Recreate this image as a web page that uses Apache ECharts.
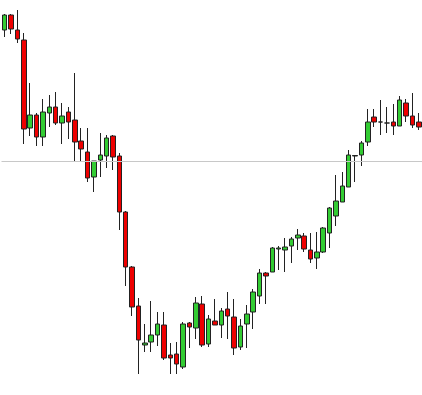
<!DOCTYPE html>
<html>
<head>
<meta charset="utf-8">
<title>Candles</title>
<script src="https://cdn.jsdelivr.net/npm/echarts@6/dist/echarts.min.js"></script>
<style>
	html, body { margin: 0; padding: 0; background: #fff; }
	#chart { width: 422px; height: 395px; }
</style>
</head>
<body>
<div id="chart"></div>
<script>
// session index
var categories = [];
for (var n = 1; n <= 66; n++) {
	categories.push('' + n);
}
// prices per candle
var opens  = [365, 380, 365, 355, 267, 280, 258, 282, 288, 272, 283, 275, 254, 243, 218, 235, 239, 259, 239, 183, 128, 89,
	50, 53, 60, 70, 40, 41, 28, 72, 67, 91, 51, 74, 70, 86, 78, 48, 71, 83, 99, 122, 123, 146,
	145, 149, 157, 159, 145, 137, 143, 162, 179, 193, 208, 239, 240, 253, 278, 273, 272, 273, 269, 292, 279, 273];
var closes = [380, 366, 356, 266, 280, 258, 283, 288, 272, 279, 273, 253, 246, 217, 234, 240, 257, 238, 183, 128, 88, 55,
	52, 60, 71, 37, 37, 31, 71, 68, 92, 50, 76, 70, 84, 79, 47, 69, 81, 103, 122, 119, 147, 147,
	148, 156, 160, 146, 136, 143, 167, 187, 194, 209, 240, 239.5, 252, 273, 273, 273, 272, 269, 295, 279, 270, 268];
var lows   = [358, 361, 352, 251, 259, 249, 249, 268, 270, 251, 256, 233, 233, 213, 203, 218, 227, 225, 165, 109, 79, 21,
	43, 43, 49, 35, 21, 21, 26, 47, 56, 48, 48, 70, 57, 56, 40, 45, 47, 66, 91, 91, 123, 125,
	123, 132, 145, 143, 132, 126, 142, 147, 169, 193, 208, 213, 229, 249, 268, 260, 262, 260, 269, 273, 267, 265];
var highs  = [381, 381, 385, 362, 312, 282, 296, 300, 303, 292, 288, 322, 267, 267, 234, 262, 260, 260, 242, 184, 129, 97,
	71, 94, 83, 83, 52, 53, 73, 73, 98, 99, 80, 96, 87, 103, 96, 76, 90, 106, 126, 123, 148, 149,
	157, 158, 166, 162, 162, 163, 168, 188, 220, 223, 245, 240, 254, 286, 286, 295, 288, 291, 299, 296, 302, 282];
// reference level
var refLevel = 233.5;

(function() {
	var chart = echarts.init(document.getElementById('chart'));
	// build [open, close, low, high] rows
	var rows = [];
	for (var i = 0; i < categories.length; i++) {
		rows.push([opens[i], closes[i], lows[i], highs[i]]);
	}
	chart.setOption({
		animation: false,
		backgroundColor: '#fff',
		grid: { left: 1.5, top: 0, width: 422.4, height: 395 },
		xAxis: {
			type: 'category',
			data: categories,
			show: false
		},
		yAxis: {
			type: 'value',
			min: 0,
			max: 395,
			show: false
		},
		series: [{
			type: 'candlestick',
			data: rows,
			barWidth: 5,
			itemStyle: {
				color: '#33cc33',
				color0: '#ee0000',
				borderColor: '#222',
				borderColor0: '#222',
				borderWidth: 1
			},
			markLine: {
				silent: true,
				symbol: 'none',
				label: { show: false },
				lineStyle: { color: '#c8c8c8', width: 1, type: 'solid' },
				data: [{ yAxis: refLevel }]
			}
		}]
	});
}());
</script>
</body>
</html>
